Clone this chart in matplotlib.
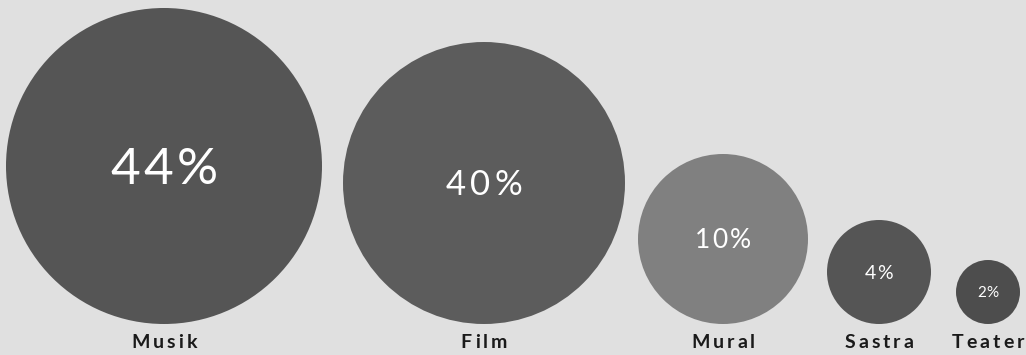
import matplotlib
matplotlib.use('Agg')
import matplotlib.pyplot as plt
from matplotlib.patches import Circle
from matplotlib.font_manager import FontProperties

# data
categories = ['Musik', 'Film', 'Mural', 'Sastra', 'Teater']
percent = [44, 40, 10, 4, 2]

# layout (pixels)
W, H = 1026, 355
centers_x = [164, 484, 723, 879, 988]
radius = [158, 141, 85, 52, 32]
bottom_y = 324
fills = ['#555555', '#5c5c5c', '#808080', '#555555', '#4d4d4d']
pct_size = [37, 25, 19, 14, 11]
pct_track = [3.5, 4, 2, 1, 0]
label_y = 348
label_size = 14
label_track = 3
bg = '#e0e0e0'
CAP = 0.7165  # wysokość wersalików Lato (w em)

fig = plt.figure(figsize=(W / 100, H / 100), dpi=100, facecolor=bg)
ax = fig.add_axes([0, 0, 1, 1])
ax.set_xlim(0, W)
ax.set_ylim(H, 0)
ax.set_aspect('equal')
ax.axis('off')
renderer = fig.canvas.get_renderer()


def spaced_text(x, y, s, size, track, color, weight='normal'):
    """Tekst z rozstrzeleniem liter, wyśrodkowany w x, y = linia bazowa."""
    prop = FontProperties(family=['Lato', 'DejaVu Sans'], size=size, weight=weight)
    widths = [renderer.get_text_width_height_descent(ch, prop, ismath=False)[0]
              for ch in s]
    total = sum(widths) + track * (len(s) - 1)
    cur = x - total / 2
    for ch, w in zip(s, widths):
        ax.text(cur, y, ch, fontproperties=prop, color=color,
                ha='left', va='baseline')
        cur += w + track


for i, (name, p) in enumerate(zip(categories, percent)):
    r = radius[i]
    cy = bottom_y - r
    cap_px = CAP * pct_size[i] * 100 / 72
    ax.add_patch(Circle((centers_x[i], cy), r, facecolor=fills[i],
                        edgecolor='none'))
    spaced_text(centers_x[i], cy + cap_px / 2, f'{p}%', pct_size[i],
                pct_track[i], 'white')
    spaced_text(centers_x[i], label_y, name, label_size, label_track,
                '#1a1a1a', weight='bold')

fig.savefig('out.png', dpi=100, facecolor=bg)
